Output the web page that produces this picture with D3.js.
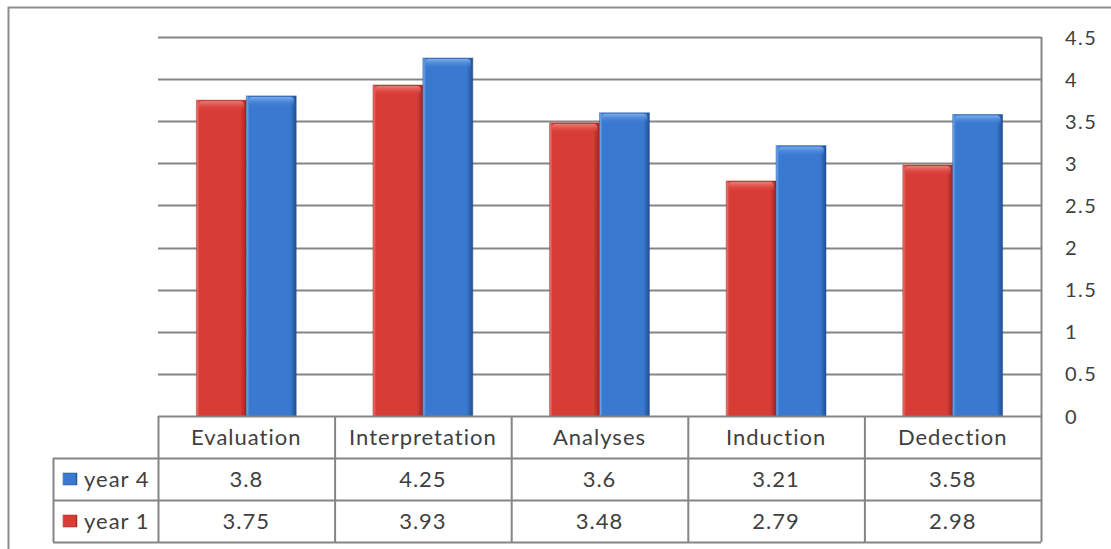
<!DOCTYPE html>
<html>
<head>
<meta charset="utf-8">
<script src="https://cdn.jsdelivr.net/npm/d3@7"></script>
<style>
  html, body { margin: 0; padding: 0; background: #fff; }
  svg { display: block; }
  text { font-family: Lato, "Open Sans", sans-serif; fill: #404040; }
</style>
</head>
<body>
<svg id="chart" width="1111" height="549"></svg>
<script>
// Scores per skill for each cohort
const categories = ["Evaluation", "Interpretation", "Analyses", "Induction", "Dedection"];
const year1 = [3.75, 3.93, 3.48, 2.79, 2.98];
const year4 = [3.8, 4.25, 3.6, 3.21, 3.58];
const yTicks = [0, 0.5, 1, 1.5, 2, 2.5, 3, 3.5, 4, 4.5];
const tickLabels = ["0", "0.5", "1", "1.5", "2", "2.5", "3", "3.5", "4", "4.5"];

const seriesList = [
  { name: "year 1", values: year1, base: "#d83c36", light: "#ef8079", dark: "#9e2420" },
  { name: "year 4", values: year4, base: "#3a79d0", light: "#7eb0ee", dark: "#204f93" }
];
// data table rows are listed top-down: year 4 first, then year 1
const tableRows = [seriesList[1], seriesList[0]];

const svg = d3.select("#chart");
const W = 1111, H = 549;

const plot = { left: 158, right: 1041, top: 37, bottom: 416 };
const rowH = 42;
const rowHeaderLeft = 53;
const gridColor = "#858585";
const tableFont = "22px";
const axisFont = "20px";

// outer chart frame (top and left edges visible)
svg.append("path")
  .attr("d", `M8.5,${H} L8.5,7.5 L${W},7.5`)
  .attr("fill", "none").attr("stroke", "#8c8c8c").attr("stroke-width", 2);

const x = d3.scaleBand().domain(categories).range([plot.left, plot.right]).paddingInner(0).paddingOuter(0);
const y = d3.scaleLinear().domain([0, 4.5]).range([plot.bottom, plot.top]);
const inner = d3.scaleBand().domain(seriesList.map(s => s.name))
  .range([0, x.bandwidth()]).paddingOuter(0.77).paddingInner(0);

// gradients
const defs = svg.append("defs");
seriesList.forEach((s, i) => {
  const g = defs.append("linearGradient").attr("id", "body" + i)
    .attr("x1", "0").attr("x2", "1").attr("y1", "0").attr("y2", "0");
  g.append("stop").attr("offset", "0").attr("stop-color", s.light);
  g.append("stop").attr("offset", "0.06").attr("stop-color", s.base);
  g.append("stop").attr("offset", "0.5").attr("stop-color", s.base);
  g.append("stop").attr("offset", "0.88").attr("stop-color", s.base);
  g.append("stop").attr("offset", "1").attr("stop-color", s.dark);
  const t = defs.append("linearGradient").attr("id", "cap" + i)
    .attr("x1", "0").attr("x2", "0").attr("y1", "0").attr("y2", "1");
  t.append("stop").attr("offset", "0").attr("stop-color", s.light).attr("stop-opacity", 0.95);
  t.append("stop").attr("offset", "1").attr("stop-color", s.base).attr("stop-opacity", 0);
});

// horizontal gridlines
const yAxis = d3.axisRight(y).tickValues(yTicks).tickSize(0)
  .tickFormat((d, i) => tickLabels[i]);
const grid = svg.append("g");
grid.selectAll("line").data(yTicks.filter(d => d > 0)).join("line")
  .attr("x1", plot.left).attr("x2", plot.right)
  .attr("y1", d => Math.round(y(d)) + 0.5).attr("y2", d => Math.round(y(d)) + 0.5)
  .attr("stroke", gridColor).attr("stroke-width", 2);

// value axis on the right
const axisG = svg.append("g").attr("transform", `translate(${plot.right},0)`).call(yAxis);
axisG.select(".domain").remove();
axisG.selectAll("text")
  .attr("x", 24).attr("dy", "0.35em")
  .style("font-family", "Lato, 'Open Sans', sans-serif")
  .style("font-size", axisFont).style("letter-spacing", "1.5px").style("fill", "#404040");

// bars
seriesList.forEach((s, i) => {
  const g = svg.append("g");
  g.selectAll("rect.body").data(s.values).join("rect")
    .attr("class", "body")
    .attr("x", (d, j) => x(categories[j]) + inner(s.name))
    .attr("y", d => y(d))
    .attr("width", inner.bandwidth())
    .attr("height", d => y(0) - y(d))
    .attr("fill", `url(#body${i})`)
    .attr("stroke", s.dark).attr("stroke-opacity", 0.5).attr("stroke-width", 1);
  g.selectAll("rect.cap").data(s.values).join("rect")
    .attr("class", "cap")
    .attr("x", (d, j) => x(categories[j]) + inner(s.name) + 2)
    .attr("y", d => y(d) + 1)
    .attr("width", inner.bandwidth() - 4)
    .attr("height", 10)
    .attr("rx", 4)
    .attr("fill", `url(#cap${i})`);
});

// right frame line of plot + table
svg.append("line")
  .attr("x1", plot.right + 0.5).attr("x2", plot.right + 0.5)
  .attr("y1", plot.top).attr("y2", plot.bottom + rowH * 3)
  .attr("stroke", gridColor).attr("stroke-width", 2);

// data table
const table = svg.append("g");
const tTop = plot.bottom;
const tBottom = plot.bottom + rowH * 3;
[tTop, tTop + rowH, tTop + rowH * 2, tBottom].forEach(yy => {
  table.append("line").attr("x1", yy === tTop ? plot.left : rowHeaderLeft).attr("x2", plot.right)
    .attr("y1", yy + 0.5).attr("y2", yy + 0.5).attr("stroke", gridColor).attr("stroke-width", 2);
});
categories.forEach(c => {
  table.append("line").attr("x1", x(c) + 0.5).attr("x2", x(c) + 0.5)
    .attr("y1", tTop).attr("y2", tBottom).attr("stroke", gridColor).attr("stroke-width", 2);
});
table.append("line").attr("x1", rowHeaderLeft + 0.5).attr("x2", rowHeaderLeft + 0.5)
  .attr("y1", tTop + rowH).attr("y2", tBottom).attr("stroke", gridColor).attr("stroke-width", 2);

// category header row
table.selectAll("text.cat").data(categories).join("text")
  .attr("class", "cat")
  .attr("x", d => x(d) + x.bandwidth() / 2)
  .attr("y", tTop + rowH / 2)
  .attr("dy", "0.35em").attr("text-anchor", "middle")
  .style("font-size", tableFont).style("letter-spacing", "1px")
  .text(d => d);

// value rows with legend keys
tableRows.forEach((s, r) => {
  const cy = tTop + rowH * (r + 1) + rowH / 2;
  const idx = seriesList.indexOf(s);
  table.append("rect")
    .attr("x", rowHeaderLeft + 10).attr("y", cy - 6)
    .attr("width", 14).attr("height", 12)
    .attr("fill", `url(#body${idx})`).attr("stroke", s.dark).attr("stroke-width", 0.5);
  table.append("text")
    .attr("x", rowHeaderLeft + 31).attr("y", cy).attr("dy", "0.35em")
    .style("font-size", tableFont).style("letter-spacing", "1px").text(s.name);
  table.selectAll(null).data(s.values).join("text")
    .attr("x", (d, j) => x(categories[j]) + x.bandwidth() / 2)
    .attr("y", cy).attr("dy", "0.35em").attr("text-anchor", "middle")
    .style("font-size", tableFont).style("letter-spacing", "1px")
    .text(d => d);
});
</script>
</body>
</html>
